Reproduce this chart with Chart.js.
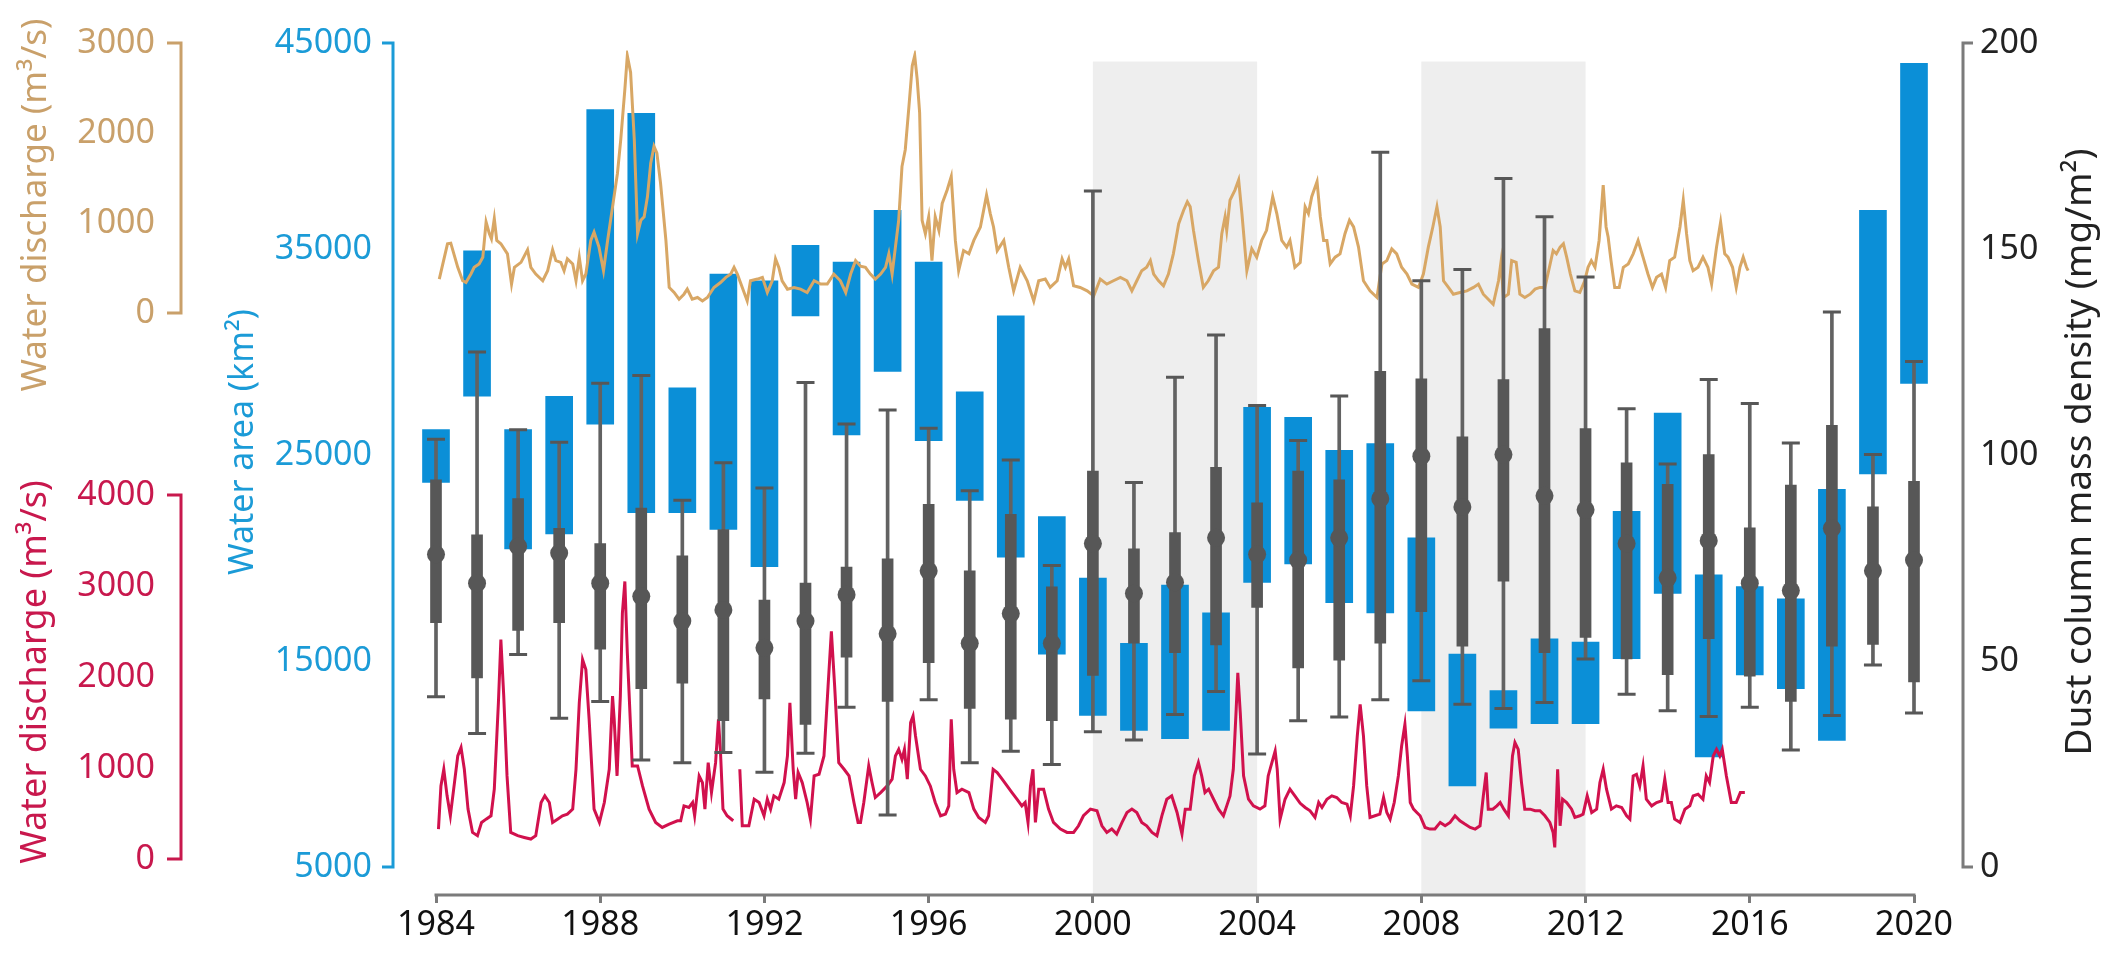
<!DOCTYPE html>
<html lang="en">
<head>
<meta charset="UTF-8">
<title>Water area, water discharge and dust column mass density, 1984-2020</title>
<script src="https://cdn.jsdelivr.net/npm/chart.js@4.4.1/dist/chart.umd.min.js"></script>
<style>
  html, body { margin: 0; padding: 0; background: #fff; }
  #wrap { width: 2114px; height: 978px; position: relative; }
</style>
</head>
<body>
<div id="wrap"><canvas id="chart"></canvas></div>
<script>
// ---- values ----
const years = [
  1984, 1985, 1986, 1987, 1988, 1989, 1990, 1991, 1992, 1993, 1994, 1995,
  1996, 1997, 1998, 1999, 2000, 2001, 2002, 2003, 2004, 2005, 2006, 2007,
  2008, 2009, 2010, 2011, 2012, 2013, 2014, 2015, 2016, 2017, 2018, 2019, 2020
];

// water area range per year (km2), blue floating bars
const areaLow = [
  23670, 27850, 20440, 21170,  26500, 22200, 22200, 21390,
  19580, 31750, 25970, 29060,  25690, 22790, 20040, 15330,
  12360, 11630, 11230, 11630,  18820, 19710, 17830, 17340,
  12580, 8940, 11740, 11960,   11960, 15110, 18280, 10340,
  14330, 13660, 11150, 24080,  28470
];
const areaHigh = [
  26240, 34910, 26240, 27850,  41770, 41590, 28260, 33780,
  33450, 35180, 34370, 36880,  34370, 28070, 31750, 22010,
  19020, 15860, 18690, 17340,  27310, 26830, 25230, 25560,
  20980, 15330, 13570, 16080,  15920, 22270, 27040, 19180,
  18610, 18020, 23330, 36880,  44010
];

// dust column mass density box plots (mg/m2)
const dustLow = [
  41.3, 32.4, 51.6, 36.1,  40.2, 26.0, 25.3, 27.8,
  23.0, 27.6, 38.8, 12.6,  40.6, 25.3, 28.1, 24.9,
  32.8, 30.8, 37.0, 42.6,  27.4, 35.5, 36.4, 40.6,
  45.2, 39.5, 38.5, 39.9,  50.5, 41.9, 37.9, 36.5,
  38.8, 28.4, 36.8, 49.0,  37.4
];
const dustQ1 = [
  59.3, 45.9, 57.4, 59.3,  52.9, 43.3, 44.6, 35.5,
  40.8, 34.6, 50.9, 40.2,  49.6, 38.5, 35.9, 35.5,
  46.5, 54.3, 52.0, 53.9,  63.0, 48.3, 50.2, 54.3,
  62.0, 53.6, 69.4, 52.0,  55.7, 50.5, 46.7, 55.4,
  46.3, 40.2, 53.6, 54.0,  44.9
];
const dustMedian = [
  75.9, 68.9, 77.8, 76.2,  68.9, 65.7, 59.7, 62.4,
  53.2, 59.7, 66.1, 56.6,  71.9, 54.3, 61.5, 54.3,
  78.5, 66.4, 69.1, 79.9,  75.9, 74.5, 79.9, 89.4,
  99.7, 87.4, 100.1, 90.1,  86.7, 78.5, 70.2, 79.2,
  68.9, 67.1, 82.2, 71.9,  74.5
];
const dustQ3 = [
  94.0, 80.6, 89.4, 82.2,  78.5, 87.1, 75.5, 81.9,
  64.8, 68.9, 72.8, 74.8,  88.0, 71.9, 85.6, 68.0,
  96.1, 77.2, 81.2, 97.0,  88.4, 96.1, 94.0, 120.3,
  118.5, 104.4, 118.3, 130.7,  106.4, 98.1, 92.9, 100.1,
  82.3, 92.7, 107.2, 87.4,  93.6
];
const dustHigh = [
  103.8, 125.0, 106.1, 103.1,  117.4, 119.3, 89.0, 98.1,
  92.0, 117.6, 107.5, 110.9,  106.5, 91.3, 98.8, 73.2,
  164.1, 93.3, 118.9, 129.1,  112.0, 103.5, 114.3, 173.5,
  142.3, 145.0, 167.1, 157.8,  143.2, 111.2, 97.8, 118.3,
  112.5, 102.9, 134.7, 100.1,  122.7
];

// monthly water discharge (m3/s), upper (tan) station: [time, value]
const upperDischarge = [
  [1984.08,377],[1984.28,769],[1984.36,776],[1984.53,507],[1984.65,358],[1984.73,339],[1984.85,433],[1984.93,507],
  [1985.05,545],[1985.14,619],[1985.22,1011],[1985.30,881],[1985.35,825],[1985.42,1049],[1985.48,806],[1985.58,769],[1985.74,657],[1985.84,321],[1985.91,507],
  [1986.07,563],[1986.23,702],[1986.31,507],[1986.43,433],[1986.60,358],[1986.72,470],[1986.84,702],[1986.92,582],
  [1987.04,563],[1987.12,470],[1987.20,601],[1987.33,545],[1987.41,358],[1987.49,619],[1987.57,358],[1987.65,433],[1987.77,806],[1987.85,899],[1987.97,732],
  [1988.08,470],[1988.18,806],[1988.30,1179],[1988.42,1553],[1988.50,1926],[1988.60,2486],[1988.66,2859],[1988.74,2673],[1988.83,1926],[1988.91,881],[1988.99,1030],
  [1989.07,1068],[1989.15,1291],[1989.23,1665],[1989.31,1851],[1989.38,1777],[1989.47,1441],[1989.60,806],[1989.68,284],[1989.80,228],[1989.92,153],
  [1990.04,209],[1990.12,265],[1990.24,153],[1990.37,172],[1990.49,134],[1990.61,172],[1990.77,284],[1990.93,339],
  [1991.06,396],[1991.18,433],[1991.26,507],[1991.34,433],[1991.46,284],[1991.58,134],[1991.66,358],[1991.83,377],[1991.95,396],
  [1992.07,228],[1992.19,358],[1992.27,601],[1992.35,507],[1992.43,358],[1992.56,265],[1992.72,284],[1992.88,265],
  [1993.04,228],[1993.21,358],[1993.37,321],[1993.53,321],[1993.69,433],[1993.85,358],[1993.98,228],
  [1994.10,433],[1994.22,582],[1994.34,520],[1994.46,508],[1994.58,433],[1994.70,377],[1994.83,433],[1994.95,508],
  [1995.03,657],[1995.11,433],[1995.19,732],[1995.27,1030],[1995.35,1627],[1995.43,1814],[1995.52,2299],[1995.60,2747],[1995.66,2859],[1995.72,2598],[1995.78,2225],[1995.84,1030],[1995.92,881],
  [1996.00,1068],[1996.08,582],[1996.16,1068],[1996.25,918],[1996.33,1217],[1996.45,1366],[1996.55,1515],[1996.65,806],[1996.73,470],[1996.85,694],[1996.98,657],
  [1997.10,806],[1997.26,956],[1997.41,1310],[1997.50,1105],[1997.58,956],[1997.67,694],[1997.83,806],[1997.95,508],
  [1998.07,246],[1998.23,508],[1998.40,358],[1998.56,134],[1998.68,358],[1998.84,377],[1998.96,284],
  [1999.13,358],[1999.25,601],[1999.33,508],[1999.41,601],[1999.53,302],[1999.69,284],[1999.86,246],
  [2000.02,190],[2000.18,377],[2000.34,321],[2000.50,358],[2000.67,396],[2000.83,358],[2000.95,246],
  [2001.07,358],[2001.19,470],[2001.31,508],[2001.40,582],[2001.48,433],[2001.60,358],[2001.72,302],[2001.84,433],[2001.96,657],
  [2002.09,993],[2002.21,1142],[2002.30,1235],[2002.37,1180],[2002.45,918],[2002.57,582],[2002.69,284],[2002.81,358],[2002.94,470],
  [2003.06,508],[2003.14,881],[2003.22,1068],[2003.26,918],[2003.34,1254],[2003.46,1366],[2003.55,1478],[2003.63,1105],[2003.75,470],[2003.87,713],[2003.99,620],
  [2004.11,806],[2004.23,918],[2004.38,1292],[2004.48,1105],[2004.60,806],[2004.72,732],[2004.80,806],[2004.92,508],
  [2005.05,560],[2005.17,1180],[2005.25,1105],[2005.33,1292],[2005.46,1460],[2005.54,1068],[2005.62,806],[2005.70,806],[2005.78,545],[2005.90,620],
  [2006.02,657],[2006.14,881],[2006.25,1030],[2006.35,956],[2006.47,732],[2006.59,358],[2006.75,246],[2006.92,172],
  [2007.04,545],[2007.16,582],[2007.28,713],[2007.40,657],[2007.52,508],[2007.65,433],[2007.77,321],[2007.93,284],
  [2008.05,433],[2008.17,732],[2008.28,956],[2008.38,1180],[2008.46,956],[2008.54,358],[2008.66,284],[2008.78,209],[2008.94,228],
  [2009.11,246],[2009.27,284],[2009.39,321],[2009.51,209],[2009.63,153],[2009.75,97],[2009.88,358],[2009.94,564],
  [2010.00,172],[2010.12,209],[2010.20,582],[2010.31,564],[2010.40,209],[2010.52,172],[2010.65,209],[2010.77,265],[2010.89,284],
  [2011.01,284],[2011.12,508],[2011.21,694],[2011.29,657],[2011.38,732],[2011.46,769],[2011.54,620],[2011.63,433],[2011.74,246],[2011.86,228],[2011.98,358],
  [2012.06,508],[2012.14,582],[2012.23,508],[2012.33,806],[2012.43,1422],[2012.50,956],[2012.55,844],[2012.62,582],[2012.71,284],[2012.82,284],[2012.92,508],
  [2013.04,545],[2013.16,657],[2013.28,806],[2013.40,620],[2013.52,433],[2013.63,284],[2013.73,396],[2013.85,433],[2013.95,284],
  [2014.05,582],[2014.17,620],[2014.30,956],[2014.38,1254],[2014.46,881],[2014.54,582],[2014.62,470],[2014.74,508],[2014.86,620],[2014.98,508],
  [2015.07,321],[2015.19,732],[2015.29,1011],[2015.39,657],[2015.47,620],[2015.58,508],[2015.67,284],[2015.76,508],[2015.84,620],[2015.92,508],[2015.96,470]
];

// monthly water discharge (m3/s), lower (crimson) station; null = gap in record
const lowerDischarge = [
  [1984.06,329],[1984.12,803],[1984.19,986],[1984.27,694],[1984.35,475],[1984.45,840],[1984.53,1132],[1984.61,1224],[1984.69,986],[1984.78,548],[1984.89,292],
  [1985.01,256],[1985.11,402],[1985.22,438],[1985.34,475],[1985.42,767],[1985.52,1717],[1985.58,2411],[1985.65,1790],[1985.73,913],[1985.82,292],[1985.99,256],
  [1986.15,237],[1986.31,219],[1986.43,256],[1986.56,621],[1986.65,694],[1986.76,621],[1986.84,402],[1986.96,438],
  [1987.08,475],[1987.20,493],[1987.33,548],[1987.41,986],[1987.49,1717],[1987.57,2192],[1987.65,2082],[1987.73,1534],[1987.85,548],[1987.98,402],
  [1988.10,621],[1988.22,986],[1988.30,1790],[1988.34,1534],[1988.41,913],[1988.49,1790],[1988.54,2703],[1988.60,3050],[1988.66,2265],[1988.78,1023],[1988.91,1023],
  [1989.03,803],[1989.19,548],[1989.35,402],[1989.51,347],[1989.68,384],[1989.88,420],[1989.96,420],
  [1990.04,584],[1990.16,566],[1990.25,621],[1990.30,475],[1990.41,913],[1990.49,840],[1990.55,548],[1990.63,1059],[1990.71,730],[1990.81,1059],[1990.88,1534],[1990.93,1169],[1990.99,548],
  [1991.09,475],[1991.24,420],[1991.32,null],[1991.40,986],[1991.46,365],[1991.62,365],[1991.75,657],[1991.87,621],[1991.99,475],
  [1992.07,657],[1992.15,548],[1992.23,694],[1992.35,657],[1992.48,840],[1992.56,1132],[1992.62,1717],[1992.70,986],[1992.76,657],[1992.82,950],[1992.92,840],
  [1993.04,621],[1993.12,438],[1993.21,913],[1993.33,931],[1993.45,1132],[1993.55,1899],[1993.63,2502],[1993.71,1899],[1993.81,1059],[1993.94,986],
  [1994.06,913],[1994.18,621],[1994.28,402],[1994.34,402],[1994.42,621],[1994.54,1023],[1994.62,840],[1994.70,676],[1994.83,730],[1994.99,803],
  [1995.11,877],[1995.19,1132],[1995.27,1205],[1995.35,1096],[1995.41,1205],[1995.48,877],[1995.56,1498],[1995.62,1571],[1995.68,1352],[1995.80,986],[1995.92,913],
  [1996.04,803],[1996.16,621],[1996.29,475],[1996.41,493],[1996.49,584],[1996.55,1534],[1996.61,986],[1996.69,730],[1996.81,767],[1996.98,730],
  [1997.10,548],[1997.22,457],[1997.38,402],[1997.46,475],[1997.57,986],[1997.67,950],[1997.79,877],[1997.91,803],
  [1998.03,730],[1998.15,657],[1998.27,584],[1998.35,621],[1998.42,402],[1998.48,803],[1998.54,986],[1998.60,402],[1998.68,767],[1998.80,767],[1998.92,548],
  [1999.04,402],[1999.21,329],[1999.37,292],[1999.53,292],[1999.65,365],[1999.77,475],[1999.94,548],
  [2000.10,530],[2000.22,365],[2000.34,292],[2000.46,329],[2000.58,274],[2000.71,402],[2000.83,511],[2000.95,548],
  [2001.07,511],[2001.19,402],[2001.31,365],[2001.44,292],[2001.56,256],[2001.68,475],[2001.80,657],[2001.92,694],
  [2002.05,511],[2002.17,274],[2002.25,548],[2002.37,548],[2002.47,913],[2002.57,1059],[2002.65,913],[2002.73,730],[2002.82,767],[2002.94,657],
  [2003.06,548],[2003.18,475],[2003.26,584],[2003.34,694],[2003.42,986],[2003.49,1644],[2003.53,2046],[2003.59,1607],[2003.67,913],[2003.79,657],[2003.91,584],
  [2004.07,548],[2004.19,584],[2004.27,913],[2004.36,1059],[2004.44,1187],[2004.49,986],[2004.56,438],[2004.68,657],[2004.80,767],[2004.92,694],
  [2005.05,612],[2005.17,566],[2005.29,530],[2005.41,457],[2005.50,621],[2005.58,566],[2005.70,657],[2005.82,694],[2005.94,676],
  [2006.06,621],[2006.19,603],[2006.27,475],[2006.35,803],[2006.44,1352],[2006.51,1699],[2006.59,1352],[2006.67,803],[2006.75,457],[2006.87,475],[2006.99,493],
  [2007.08,676],[2007.16,511],[2007.24,438],[2007.34,621],[2007.44,913],[2007.52,1242],[2007.60,1479],[2007.66,1132],[2007.73,621],[2007.81,548],[2007.89,511],[2007.97,475],
  [2008.09,347],[2008.21,329],[2008.33,329],[2008.46,402],[2008.58,365],[2008.70,402],[2008.82,475],[2008.94,420],
  [2009.06,384],[2009.19,347],[2009.31,329],[2009.43,365],[2009.51,694],[2009.58,950],[2009.63,548],[2009.74,548],[2009.84,584],[2009.92,621],
  [2010.01,548],[2010.12,475],[2010.22,1132],[2010.28,1279],[2010.36,1205],[2010.44,840],[2010.52,548],[2010.65,548],[2010.77,530],[2010.89,530],
  [2011.01,475],[2011.13,402],[2011.21,292],[2011.25,128],[2011.32,986],[2011.38,365],[2011.44,657],[2011.54,621],[2011.66,548],[2011.74,457],[2011.86,475],[2011.94,493],
  [2012.04,694],[2012.15,511],[2012.27,548],[2012.35,840],[2012.43,986],[2012.51,767],[2012.63,548],[2012.75,584],[2012.88,566],
  [2013.00,475],[2013.08,438],[2013.16,913],[2013.24,931],[2013.32,803],[2013.40,1023],[2013.48,657],[2013.61,584],[2013.73,621],[2013.85,639],[2013.93,877],
  [2014.01,621],[2014.09,621],[2014.17,438],[2014.30,402],[2014.42,548],[2014.54,584],[2014.62,694],[2014.74,712],[2014.86,657],[2014.94,913],
  [2015.02,840],[2015.11,1132],[2015.19,1205],[2015.27,1132],[2015.33,1205],[2015.43,913],[2015.55,621],[2015.67,621],[2015.77,730],[2015.88,730]
];

const xTicks = [1984, 1988, 1992, 1996, 2000, 2004, 2008, 2012, 2016, 2020];
const areaTicks = [5000, 15000, 25000, 35000, 45000];
const dustTicks = [0, 50, 100, 150, 200];
const upperTicks = [0, 1000, 2000, 3000];
const lowerTicks = [0, 1000, 2000, 3000, 4000];
const shadedPeriods = [[2000, 2004], [2008, 2012]];

// ---- layout (canvas pixels) ----
const W = 2114, H = 978;
const PAD_LEFT = 220, AREA_AXIS_W = 182, DUST_AXIS_W = 159, X_AXIS_H = 83;
const FONT = "'Noto Sans', 'DejaVu Sans', sans-serif";
const C = {
  tan: '#c9a06a', tanLine: '#d8a765',
  blue: '#1b9bd7', bar: '#0b8fd7',
  crimson: '#c8184d', crimsonLine: '#d1114d',
  box: '#575757', whisker: '#626262', axis: '#7b7b7b', shade: '#eeeeee'
};
// where the axis end values sit on the canvas (pixel rows / columns)
const ANCHOR = {
  x: [1984, 436, 2020, 1914],
  area: [5000, 867, 45000, 43],
  dust: [0, 867, 200, 43],
  upper: [0, 313, 3000, 43],
  lower: [0, 859, 4000, 495]
};

const at = arr => years.map((yr, i) => ({ x: yr, y: arr[i] }));
const span = (lo, hi) => years.map((yr, i) => ({ x: yr, y: [lo[i], hi[i]] }));
const series = rows => rows.map(([t, v]) => ({ x: t, y: v }));
const fixTicks = list => axis => { axis.ticks = list.map(v => ({ value: v })); };

// set every axis range from the real chart area so the anchors land on their pixels
function fitRanges(chart) {
  const a = chart.chartArea, sc = chart.options.scales;
  const vr = ([v0, p0, v1, p1]) => {
    const k = (v1 - v0) / (p0 - p1);
    return { min: v0 - (a.bottom - p0) * k, max: v1 + (p1 - a.top) * k };
  };
  const [x0, px0, x1, px1] = ANCHOR.x;
  const kx = (x1 - x0) / (px1 - px0);
  sc.x.min = x0 - (px0 - a.left) * kx;
  sc.x.max = x1 + (a.right - px1) * kx;
  Object.assign(sc.yArea, vr(ANCHOR.area));
  Object.assign(sc.yDust, vr(ANCHOR.dust));
  Object.assign(sc.yUpper, vr(ANCHOR.upper));
  Object.assign(sc.yLower, vr(ANCHOR.lower));
  chart.update('none');
}

function bracket(ctx, x, yTop, yBot, stub, color) {
  ctx.strokeStyle = color;
  ctx.lineWidth = 3;
  ctx.beginPath();
  ctx.moveTo(x + stub, yTop);
  ctx.lineTo(x, yTop);
  ctx.lineTo(x, yBot);
  ctx.lineTo(x + stub, yBot);
  ctx.stroke();
}
function vText(ctx, text, cx, cy, color, size) {
  ctx.save();
  ctx.translate(cx, cy);
  ctx.rotate(-Math.PI / 2);
  ctx.fillStyle = color;
  ctx.font = size + 'px ' + FONT;
  ctx.textAlign = 'center';
  ctx.textBaseline = 'middle';
  ctx.fillText(text, 0, 0);
  ctx.restore();
}

const decor = {
  id: 'decor',
  beforeDatasetsDraw(chart) {
    const { ctx, chartArea: a, scales: { x, yDust } } = chart;
    const top = yDust.getPixelForValue(195.5);
    ctx.save();
    ctx.fillStyle = C.shade;
    shadedPeriods.forEach(([s, e]) => {
      const x0 = x.getPixelForValue(s), x1 = x.getPixelForValue(e);
      ctx.fillRect(x0, top, x1 - x0, a.bottom - top);
    });
    ctx.restore();
  },
  afterDraw(chart) {
    const { ctx, chartArea: a, scales: { x, yArea, yDust, yUpper, yLower } } = chart;
    ctx.save();
    // x axis line between first and last year
    ctx.strokeStyle = C.axis;
    ctx.lineWidth = 3;
    ctx.beginPath();
    ctx.moveTo(x.getPixelForValue(xTicks[0]) - 1.5, a.bottom);
    ctx.lineTo(x.getPixelForValue(xTicks[xTicks.length - 1]) + 1.5, a.bottom);
    ctx.stroke();

    // axis brackets
    const lx = 181;
    bracket(ctx, lx, yUpper.getPixelForValue(upperTicks[upperTicks.length - 1]), yUpper.getPixelForValue(upperTicks[0]), -14, C.tan);
    bracket(ctx, lx, yLower.getPixelForValue(lowerTicks[lowerTicks.length - 1]), yLower.getPixelForValue(lowerTicks[0]), -14, C.crimson);
    bracket(ctx, a.left - 9, yArea.getPixelForValue(areaTicks[areaTicks.length - 1]), yArea.getPixelForValue(areaTicks[0]), -11, C.blue);
    bracket(ctx, a.right + 8, yDust.getPixelForValue(dustTicks[dustTicks.length - 1]), yDust.getPixelForValue(dustTicks[0]), 10, C.axis);

    // tick labels of the two discharge axes
    ctx.font = '34px ' + FONT;
    ctx.textAlign = 'right';
    ctx.textBaseline = 'middle';
    ctx.fillStyle = C.tan;
    upperTicks.forEach(v => ctx.fillText(String(v), 155, yUpper.getPixelForValue(v)));
    ctx.fillStyle = C.crimson;
    lowerTicks.forEach(v => ctx.fillText(String(v), 155, yLower.getPixelForValue(v)));
    ctx.restore();

    // axis titles
    vText(ctx, 'Water discharge (m³/s)', 36, 205, C.tan, 35);
    vText(ctx, 'Water discharge (m³/s)', 36, 672, C.crimson, 36);
    vText(ctx, 'Water area (km²)', 243, 442, C.blue, 34);
    vText(ctx, 'Dust column mass density (mg/m²)', 2080, 452, '#222', 37);
  }
};

const chart = new Chart(document.getElementById('chart'), {
  type: 'bar',
  data: {
    datasets: [
      { type: 'bar', label: 'Water area', data: span(areaLow, areaHigh), yAxisID: 'yArea',
        backgroundColor: C.bar, barThickness: 27, grouped: false, order: 6 },
      { type: 'line', label: 'Water discharge (upper)', data: series(upperDischarge), yAxisID: 'yUpper',
        borderColor: C.tanLine, borderWidth: 3, pointRadius: 0, tension: 0, order: 5 },
      { type: 'line', label: 'Water discharge (lower)', data: series(lowerDischarge), yAxisID: 'yLower',
        borderColor: C.crimsonLine, borderWidth: 3, pointRadius: 0, tension: 0, spanGaps: false, order: 5 },
      { type: 'bar', label: 'Dust range', data: span(dustLow, dustHigh), yAxisID: 'yDust',
        backgroundColor: C.whisker, barThickness: 3, grouped: false, order: 4 },
      { type: 'scatter', label: 'Dust whisker caps', data: at(dustLow).concat(at(dustHigh)), yAxisID: 'yDust',
        pointStyle: 'line', pointRadius: 9, borderColor: C.box, borderWidth: 3, order: 3 },
      { type: 'bar', label: 'Dust interquartile', data: span(dustQ1, dustQ3), yAxisID: 'yDust',
        backgroundColor: C.box, barThickness: 11, grouped: false, order: 2 },
      { type: 'scatter', label: 'Dust median', data: at(dustMedian), yAxisID: 'yDust',
        pointStyle: 'circle', pointRadius: 9, backgroundColor: C.box, borderWidth: 0, order: 1 }
    ]
  },
  options: {
    responsive: true,
    maintainAspectRatio: false,
    animation: false,
    layout: { padding: { left: PAD_LEFT, top: 30, right: 0, bottom: 0 } },
    plugins: { legend: { display: false }, tooltip: { enabled: false } },
    scales: {
      x: {
        type: 'linear', offset: false, bounds: 'data', min: 1983.2, max: 2021,
        afterBuildTicks: fixTicks(xTicks),
        afterFit: s => { s.height = X_AXIS_H; },
        grid: { display: true, offset: false, drawOnChartArea: false, drawTicks: true, tickLength: 8, color: C.axis, lineWidth: 3 },
        border: { display: false },
        ticks: { callback: v => String(v), color: '#111', font: { size: 34, family: FONT }, padding: 2, maxRotation: 0, autoSkip: false }
      },
      yArea: {
        position: 'left', min: 2000, max: 45000,
        afterBuildTicks: fixTicks(areaTicks),
        afterFit: s => { s.width = AREA_AXIS_W; },
        grid: { display: false, drawTicks: false },
        border: { display: false },
        ticks: { color: C.blue, font: { size: 34, family: FONT }, padding: 30, callback: v => String(v) }
      },
      yDust: {
        position: 'right', min: -10, max: 200,
        afterBuildTicks: fixTicks(dustTicks),
        afterFit: s => { s.width = DUST_AXIS_W; },
        grid: { display: false, drawTicks: false },
        border: { display: false },
        ticks: { color: '#222', font: { size: 34, family: FONT }, padding: 25, callback: v => String(v) }
      },
      yUpper: { display: false, min: -6000, max: 3000 },
      yLower: { display: false, min: -500, max: 9000 }
    }
  },
  plugins: [decor]
});
fitRanges(chart);
</script>
</body>
</html>
